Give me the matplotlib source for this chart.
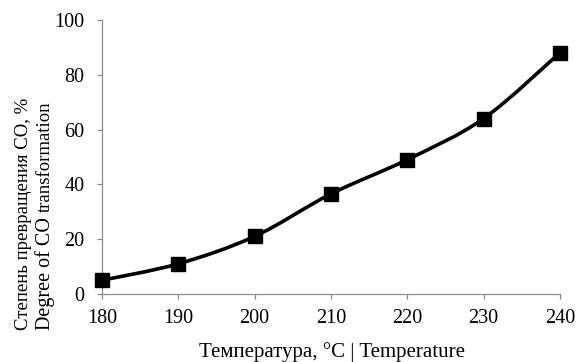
import matplotlib
matplotlib.use('Agg')
import matplotlib.pyplot as plt
from matplotlib.path import Path
from matplotlib.patches import PathPatch
import numpy as np

temps = [180, 190, 200, 210, 220, 230, 240]
degree = [5, 11, 21, 36.5, 49, 64, 88]

plt.rcParams['font.family'] = ['Liberation Serif', 'DejaVu Serif']

fig = plt.figure(figsize=(5.79, 3.62), dpi=100)
ax = fig.add_axes([0.176, 0.188, 0.791, 0.757])

# smooth curve like Excel (Catmull-Rom as cubic Bezier segments)
pts = np.column_stack([temps, degree])
verts = [tuple(pts[0])]
codes = [Path.MOVETO]
n = len(pts)
for i in range(n - 1):
    p0 = pts[max(i - 1, 0)]
    p1 = pts[i]
    p2 = pts[i + 1]
    p3 = pts[min(i + 2, n - 1)]
    c1 = p1 + (p2 - p0) / 6
    c2 = p2 - (p3 - p1) / 6
    verts += [tuple(c1), tuple(c2), tuple(p2)]
    codes += [Path.CURVE4] * 3
ax.add_patch(PathPatch(Path(verts, codes), fill=False, lw=2.6, color='black',
                       capstyle='round', joinstyle='round'))
ax.plot(temps, degree, ls='none', marker='s', ms=10, color='black', zorder=3,
        clip_on=False)

ax.set_xlim(180, 240)
ax.set_ylim(0, 100)
ax.set_xticks(temps)
ax.set_yticks([0, 20, 40, 60, 80, 100])
for s in ['top', 'right']:
    ax.spines[s].set_visible(False)
for s in ['left', 'bottom']:
    ax.spines[s].set_color('#8c8c8c')
    ax.spines[s].set_linewidth(0.9)
ax.tick_params(direction='out', length=3.5, width=0.9, color='#8c8c8c',
               labelsize=14.5)
ax.tick_params(axis='y', pad=9)
ax.tick_params(axis='x', pad=7)

fig.text(0.574, 0.028, 'Температура, °C | Temperature', ha='center', va='center',
         fontsize=15)
fig.text(0.040, 0.088, 'Степень превращения СО, %', rotation=90, ha='center',
         va='bottom', fontsize=13.5)
t1 = fig.text(0.077, 0.088, 'Degree of CO ', rotation=90, ha='center',
              va='bottom', fontsize=14.5)
fig.canvas.draw()
bb = t1.get_window_extent().transformed(fig.transFigure.inverted())
fig.text(0.079, bb.y1, 'transformation', rotation=90, ha='center',
         va='bottom', fontsize=13.5)

fig.savefig('out.png', dpi=100)
